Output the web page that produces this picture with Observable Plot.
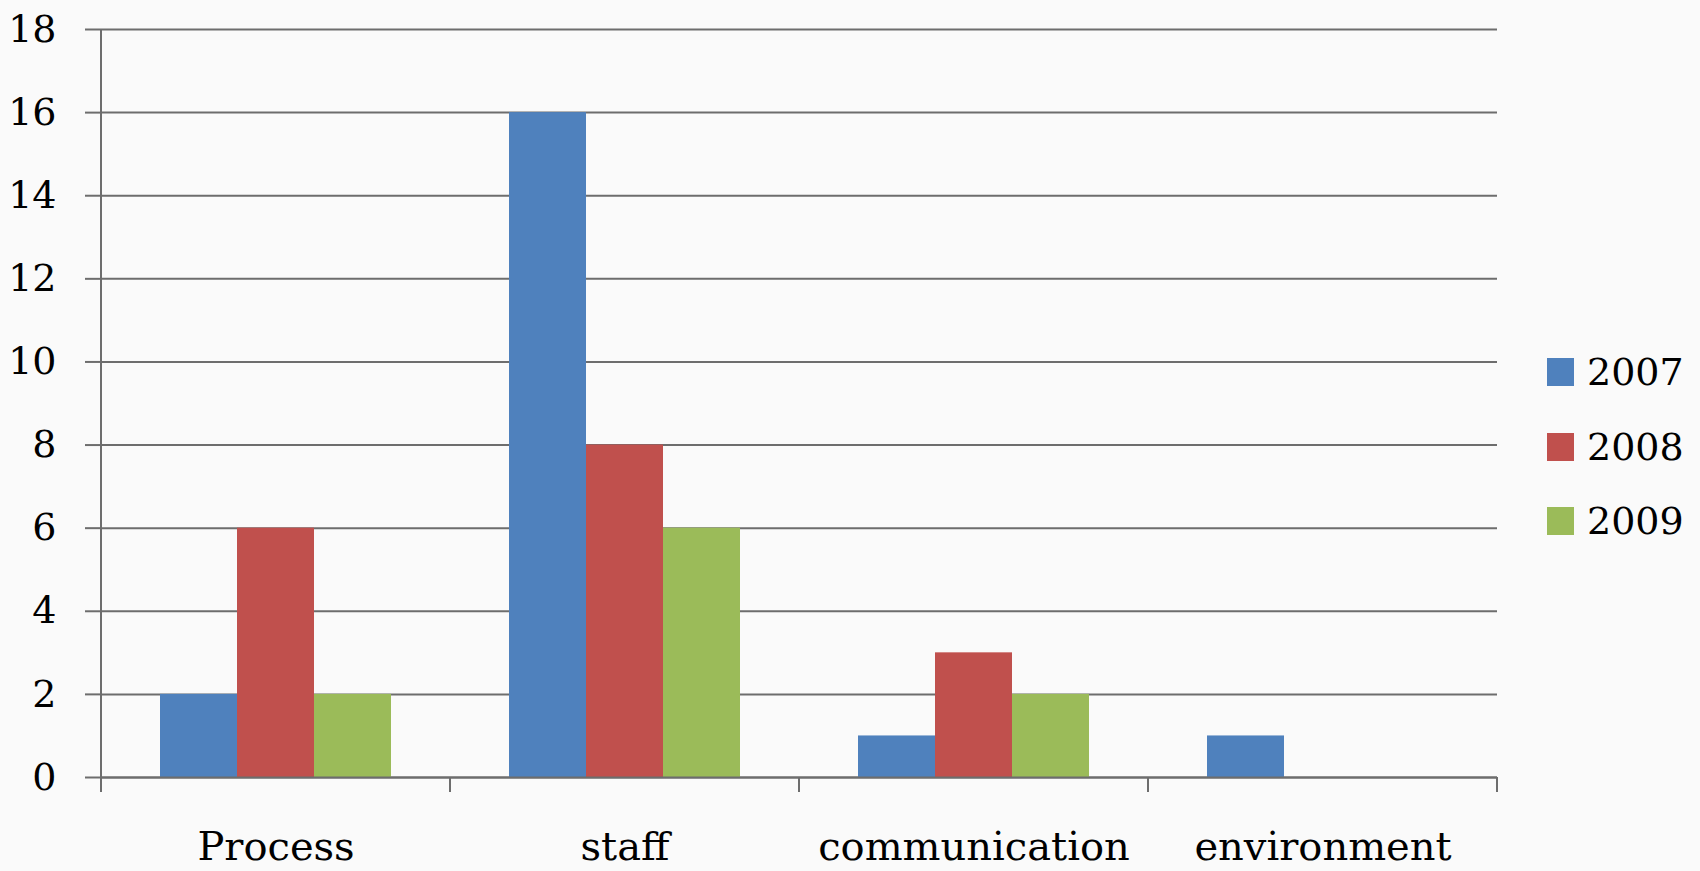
<!DOCTYPE html>
<html>
<head>
<meta charset="utf-8">
<script src="https://cdn.jsdelivr.net/npm/d3@7"></script>
<script src="https://cdn.jsdelivr.net/npm/@observablehq/plot@0.6"></script>
<style>
  html, body { margin: 0; padding: 0; background: #fafafa; }
  #wrap { position: relative; width: 1700px; height: 871px; overflow: hidden; font-family: "DejaVu Serif", serif; }
  #legend { position: absolute; left: 1547px; top: 352px; }
  .item { position: absolute; left: 0; display: flex; align-items: center; height: 40px; white-space: nowrap; }
  .sw { width: 27px; height: 28px; margin-right: 13px; }
  .lab { font-size: 38px; color: #000; line-height: 1; }
</style>
</head>
<body>
<div id="wrap"></div>
<script>
const categories = ["Process", "staff", "communication", "environment"];
const years = ["2007", "2008", "2009"];
const v2007 = [2, 16, 1, 1];
const v2008 = [6, 8, 3, 0];
const v2009 = [2, 6, 2, 0];
const yTicks = [0, 2, 4, 6, 8, 10, 12, 14, 16, 18];
const colors = ["#4f81bd", "#c0504d", "#9bbb59"];

const series = [v2007, v2008, v2009];
const data = categories.flatMap((c, i) =>
  years.map((yr, j) => ({ category: c, year: yr, value: series[j][i] }))
);

const gridColor = "#6d6d6d";

const plot = Plot.plot({
  width: 1700,
  height: 871,
  marginLeft: 100,
  marginRight: 202,
  marginTop: 29,
  marginBottom: 94,
  style: { background: "transparent", fontFamily: "DejaVu Serif", color: "#000", overflow: "visible" },
  fx: { domain: categories, padding: 0, label: null, axis: null },
  x: { domain: years, paddingInner: 0, paddingOuter: 0.74, axis: null },
  y: { domain: [0, 18], label: null, axis: null },
  color: { domain: years, range: colors },
  marks: [
    Plot.gridY(yTicks, { stroke: gridColor, strokeOpacity: 1, strokeWidth: 2 }),
    Plot.barY(data, { fx: "category", x: "year", y: "value", fill: "year" }),
    Plot.ruleY([0], { stroke: gridColor, strokeWidth: 2 }),
    Plot.axisY(yTicks, { tickSize: 16, tickPadding: 29, stroke: gridColor, strokeWidth: 2, strokeOpacity: 1, fontSize: 38, fill: "#000", label: null }),
    Plot.axisFx({ anchor: "bottom", tickSize: 0, tickPadding: 54, fontSize: 40, fill: "#000", label: null })
  ]
});

// category boundary ticks and vertical axis line, positioned from Plot's scales
const fxs = plot.scale("fx");
const ys = plot.scale("y");
const y0 = ys.apply(0);
const yTop = ys.apply(18);
const bounds = categories.map(c => fxs.apply(c));
bounds.push(fxs.apply(categories[categories.length - 1]) + fxs.bandwidth);
const svg = d3.select(plot);
const g = svg.append("g").attr("stroke", gridColor).attr("stroke-width", 2);
bounds.forEach((bx, i) => {
  g.append("line")
    .attr("x1", bx).attr("x2", bx)
    .attr("y1", i === 0 ? yTop : y0).attr("y2", y0 + 15);
});

document.getElementById("wrap").appendChild(plot);

// legend
const legend = document.createElement("div");
legend.id = "legend";
years.forEach((yr, j) => {
  const item = document.createElement("div");
  item.className = "item";
  item.style.top = (j * 74.5) + "px";
  const sw = document.createElement("div");
  sw.className = "sw";
  sw.style.background = colors[j];
  const lab = document.createElement("span");
  lab.className = "lab";
  lab.textContent = yr;
  item.appendChild(sw);
  item.appendChild(lab);
  legend.appendChild(item);
});
document.getElementById("wrap").appendChild(legend);
</script>
</body>
</html>
